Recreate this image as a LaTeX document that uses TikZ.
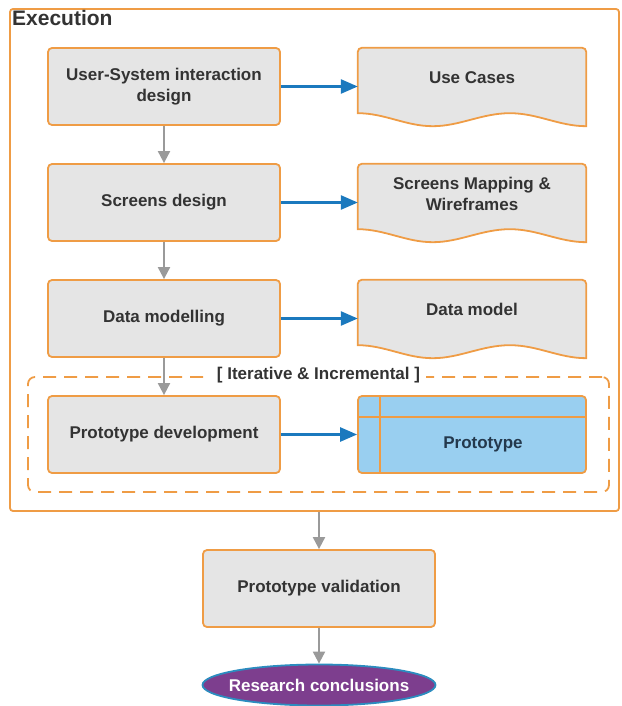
\documentclass[tikz,border=0pt]{standalone}
\usepackage{fontspec}
\setmainfont{Liberation Sans}
\usetikzlibrary{arrows.meta,shapes.geometric,calc}

\definecolor{edgeorange}{HTML}{EF9C45}
\definecolor{boxgray}{HTML}{E5E5E5}
\definecolor{txtgray}{HTML}{333333}
\definecolor{flowgray}{HTML}{9A9A9A}
\definecolor{flowblue}{HTML}{1B79BE}
\definecolor{protoblue}{HTML}{99CFF0}
\definecolor{prototxt}{HTML}{24394D}
\definecolor{endpurple}{HTML}{7D3E8E}
\definecolor{endring}{HTML}{2C8CBF}

\tikzset{
  stepfont/.style={font=\bfseries\fontsize{17}{21.5}\selectfont},
  stepbox/.style={draw=edgeorange, fill=boxgray, line width=1.8pt, rounded corners=4pt,
    minimum width=232pt, minimum height=77pt, align=center, text=txtgray, stepfont},
  docarea/.style={minimum width=228pt, minimum height=78pt, inner sep=0pt},
  doctext/.style={align=center, text=txtgray, stepfont},
  docline/.style={draw=edgeorange, fill=boxgray, line width=1.8pt},
  grayflow/.style={draw=flowgray, line width=2pt, -{Triangle[length=12pt,width=12pt]}},
  blueflow/.style={draw=flowblue, line width=2.6pt, -{Triangle[length=17pt,width=14pt]}},
}

% document shape with a wavy bottom edge, drawn over the area of node #1
\newcommand{\wavydoc}[1]{%
  \path[docline]
    ($(#1.south west)+(0,-13)$) [rounded corners=4pt] -- (#1.north west) -- (#1.north east)
    [sharp corners] -- (#1.south east)
    .. controls ($(#1.south west)+(201,0)$) and ($(#1.south west)+(180,-13)$) .. ($(#1.south west)+(152,-13)$)
    .. controls ($(#1.south west)+(124,-13)$) and ($(#1.south west)+(102,0)$) .. ($(#1.south west)+(75,0)$)
    .. controls ($(#1.south west)+(48,0)$) and ($(#1.south west)+(27,-13)$) .. ($(#1.south west)+(0,-13)$)
    -- cycle;}

\begin{document}
\begin{tikzpicture}[x=1pt,y=-1pt]
\useasboundingbox (0,0) rectangle (621,706);

% outer execution frame
\node[draw=edgeorange, line width=1.8pt, rounded corners=3pt, minimum width=609pt,
      minimum height=502pt, inner sep=0pt] (exec) at (314.5,260) {};
\node[anchor=north west, inner sep=0pt, text=txtgray,
      font=\bfseries\fontsize{21}{25}\selectfont] (exectitle) at (12,10) {Execution};

% iterative loop frame
\node[draw=edgeorange, line width=1.8pt, dash pattern=on 13pt off 8pt, rounded corners=7pt,
      minimum width=581pt, minimum height=115pt, inner sep=0pt] (iter) at (318.5,434.5) {};
\node[fill=white, inner xsep=6pt, inner ysep=1pt, text=txtgray,
      font=\bfseries\fontsize{17}{20}\selectfont] (iterlabel) at (318.5,375.5) {[ Iterative \& Incremental ]};

% process steps
\node[stepbox] (s1) at (164,86.5) {User-System interaction\\design};
\node[stepbox] (s2) at (164,202.5) {Screens design};
\node[stepbox] (s3) at (164,318.5) {Data modelling};
\node[stepbox] (s4) at (164,434.5) {Prototype development};

% output documents
\node[docarea] (d1) at (472,87) {};
\node[docarea] (d2) at (472,203) {};
\node[docarea] (d3) at (472,319) {};
\wavydoc{d1}
\wavydoc{d2}
\wavydoc{d3}
\node[doctext] (d1t) at ($(d1.center)+(0,-9)$) {Use Cases};
\node[doctext] (d2t) at ($(d2.center)+(0,-9)$) {Screens Mapping \&\\Wireframes};
\node[doctext] (d3t) at ($(d3.center)+(0,-10)$) {Data model};

% prototype artefact
\node[draw=edgeorange, fill=protoblue, line width=1.8pt, rounded corners=4pt,
      minimum width=228pt, minimum height=77pt, inner sep=0pt] (proto) at (472,434.5) {};
\draw[edgeorange, line width=1.6pt] ($(proto.north west)+(0,22)$) -- ($(proto.north east)+(0,22)$);
\draw[edgeorange, line width=1.6pt] ($(proto.north west)+(23,0)$) -- ($(proto.south west)+(23,0)$);
\node[text=prototxt, stepfont] (protot) at (483,444) {Prototype};

% validation and conclusions
\node[stepbox] (val) at (319,588.5) {Prototype validation};
\node[ellipse, draw=endring, fill=endpurple, line width=1.8pt, minimum width=233pt,
      minimum height=41pt, inner sep=0pt] (concl) at (319,685) {};
\node[text=white, stepfont] (concltext) at (concl.center) {Research conclusions};

% flow between steps
\draw[grayflow] (s1) -- (s2);
\draw[grayflow] (s2) -- (s3);
\draw[grayflow] (s3) -- (s4);
\draw[grayflow] (exec.south -| val.north) -- (val.north);
\draw[grayflow] (val) -- (concl);

% outputs of each step
\draw[blueflow] (s1.east) -- (s1.east -| d1.west);
\draw[blueflow] (s2.east) -- (s2.east -| d2.west);
\draw[blueflow] (s3.east) -- (s3.east -| d3.west);
\draw[blueflow] (s4.east) -- (s4.east -| proto.west);
\end{tikzpicture}
\end{document}
